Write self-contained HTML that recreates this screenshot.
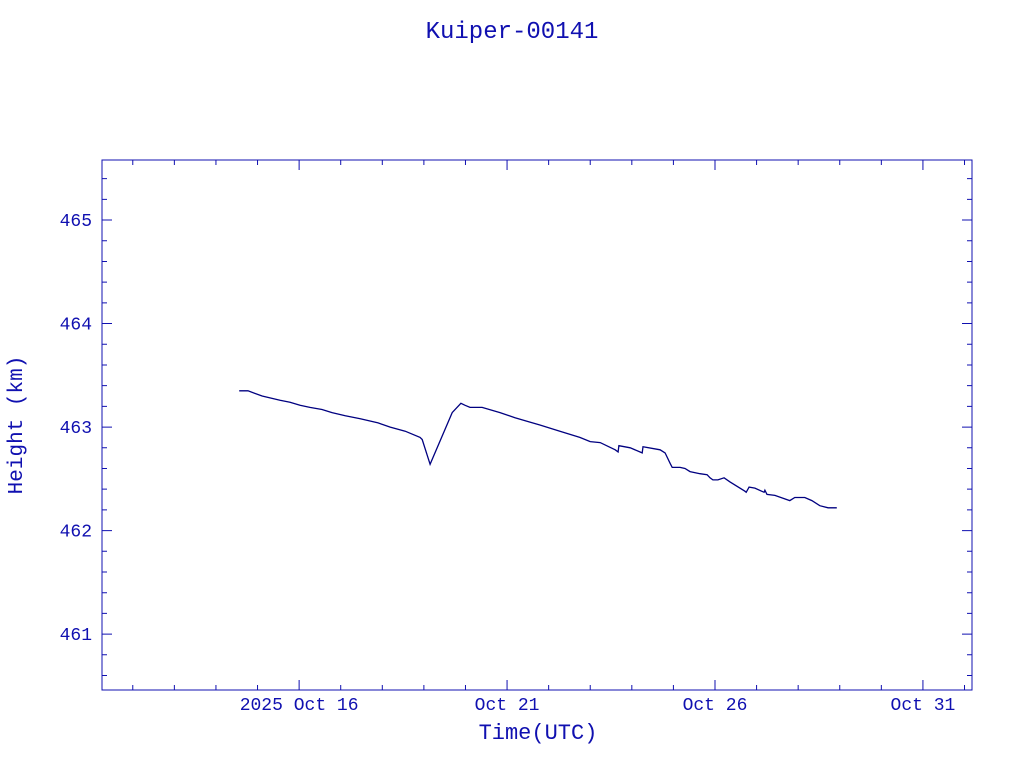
<!DOCTYPE html>
<html><head><meta charset="utf-8"><style>
html,body{margin:0;padding:0;background:#fff;}
svg{display:block;}
text{font-family:"Liberation Mono",monospace;fill:#1010b0;}
</style></head><body>
<svg id="chart" width="1024" height="768" xmlns="http://www.w3.org/2000/svg">
<text x="512" y="38" font-size="24" text-anchor="middle">Kuiper-00141</text>
<rect x="102" y="160" width="870" height="530" fill="none" stroke="#1010b0" stroke-width="1"/>
<g id="ticks"></g>
<g id="labels"></g>
<path id="series" fill="none" stroke="#000080" stroke-width="1.3"/>
<text x="538" y="739" font-size="22" text-anchor="middle">Time(UTC)</text>
<text x="0" y="0" font-size="21" text-anchor="middle" transform="translate(22,425) rotate(-90)">Height (km)</text>
</svg>
<script>
const days=[14.56,14.77,15.11,15.54,15.78,16.02,16.26,16.55,16.79,17.11,17.47,17.90,18.19,18.55,18.91,18.96,19.15,19.68,19.89,19.99,20.11,20.40,20.83,21.19,21.53,21.79,22.27,22.75,23.00,23.24,23.60,23.67,23.69,23.96,24.25,24.27,24.68,24.80,24.92,24.97,25.16,25.28,25.40,25.64,25.81,25.88,25.95,26.07,26.22,26.36,26.72,26.75,26.82,26.96,27.18,27.20,27.25,27.44,27.80,27.92,28.16,28.33,28.52,28.72,28.93];
const heights=[463.35,463.35,463.30,463.26,463.24,463.21,463.19,463.17,463.14,463.11,463.08,463.04,463.00,462.96,462.90,462.88,462.64,463.14,463.23,463.21,463.19,463.19,463.14,463.09,463.05,463.02,462.96,462.90,462.86,462.85,462.78,462.76,462.82,462.80,462.75,462.81,462.78,462.75,462.65,462.61,462.61,462.60,462.57,462.55,462.54,462.51,462.49,462.49,462.51,462.47,462.38,462.37,462.42,462.41,462.37,462.39,462.35,462.34,462.29,462.32,462.32,462.29,462.24,462.22,462.22];
const xTickDays=[16,21,26,31];
const xTickLabels=["2025 Oct 16","Oct 21","Oct 26","Oct 31"];
const yTicks=[461,462,463,464,465];
const yTickLabels=["461","462","463","464","465"];
const X0=102,X1=972,Y0=690,Y1=160;
const dMin=11.26,dMax=32.18,hMin=460.46,hMax=465.58;
const xs=d=>X0+(d-dMin)/(dMax-dMin)*(X1-X0);
const ys=h=>Y0-(h-hMin)/(hMax-hMin)*(Y0-Y1);
const NS="http://www.w3.org/2000/svg";
const tg=document.getElementById('ticks'),lg=document.getElementById('labels');
let td="";
for(let d=12;d<=32;d++){const x=xs(d);if(x<X0||x>X1)continue;const L=xTickDays.includes(d)?10:5;td+=`M${x},${Y0}v${-L}M${x},${Y1}v${L}`;}
for(let i=0;i<=25;i++){const h=460.6+i*0.2;const y=ys(h);if(y<Y1||y>Y0)continue;const major=Math.abs(h-Math.round(h))<1e-6;const L=major?10:5;td+=`M${X0},${y}h${L}M${X1},${y}h${-L}`;}
const tp=document.createElementNS(NS,'path');
tp.setAttribute('d',td);tp.setAttribute('stroke','#1010b0');tp.setAttribute('fill','none');


tg.appendChild(tp);
xTickDays.forEach((d,i)=>{const t=document.createElementNS(NS,'text');
t.setAttribute('x',xs(d));t.setAttribute('y',710);t.setAttribute('font-size','18');t.setAttribute('text-anchor','middle');
t.textContent=xTickLabels[i];


lg.appendChild(t);});
yTicks.forEach((h,i)=>{const t=document.createElementNS(NS,'text');
t.setAttribute('x',92);t.setAttribute('y',ys(h)+6);t.setAttribute('font-size','18');t.setAttribute('text-anchor','end');
t.textContent=yTickLabels[i];


lg.appendChild(t);});
document.getElementById('series').setAttribute('d',days.map((d,i)=>(i?'L':'M')+xs(d).toFixed(1)+','+ys(heights[i]).toFixed(1)).join(''));
</script>
</body></html>
